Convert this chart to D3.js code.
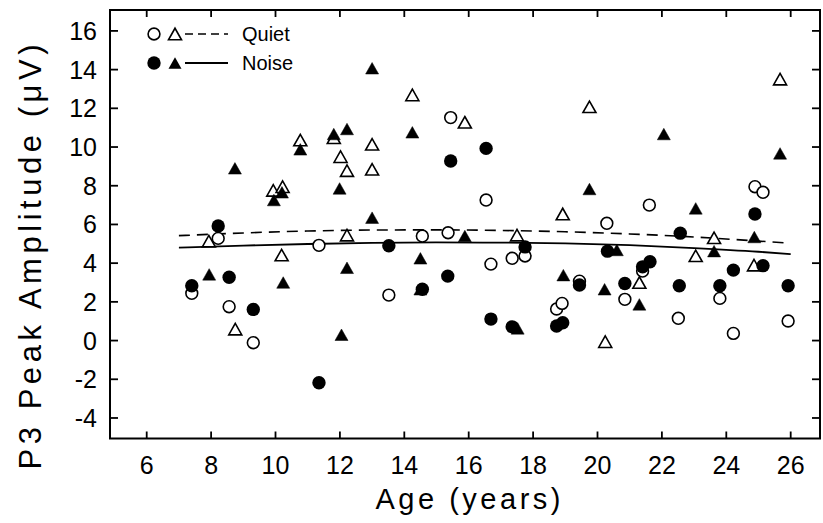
<!DOCTYPE html>
<html><head><meta charset="utf-8">
<script src="https://cdn.jsdelivr.net/npm/d3@7"></script>
<style>body{margin:0;background:#fff}svg{display:block}text{font-family:"Liberation Sans",Arial,sans-serif;fill:#000}</style>
</head><body><div id="chart"></div>
<script>
// ---- data ----
const xTicks = [6,8,10,12,14,16,18,20,22,24,26];
const yTicks = [-4,-2,0,2,4,6,8,10,12,14,16];
const quietCircles = [[7.40,2.44],[8.22,5.28],[8.56,1.75],[9.31,-0.11],[11.35,4.92],[13.52,2.35],[14.56,5.40],[15.44,11.52],[15.36,5.57],[16.54,7.26],[16.69,3.95],[17.35,4.25],[17.75,4.37],[18.73,1.63],[18.90,1.92],[19.44,3.07],[20.29,6.06],[20.85,2.13],[21.40,3.59],[21.61,7.00],[22.51,1.15],[23.80,2.18],[24.22,0.37],[24.89,7.95],[25.14,7.66],[25.92,1.01]];
const quietTriangles = [[7.93,5.14],[8.75,0.59],[9.93,7.76],[10.22,7.95],[10.19,4.42],[10.77,10.36],[11.81,10.48],[12.02,9.50],[12.22,8.78],[12.22,5.45],[13.0,10.14],[13.0,8.85],[14.25,12.69],[15.88,11.28],[17.50,5.45],[18.92,6.54],[19.75,12.08],[20.24,-0.06],[21.30,3.0],[23.05,4.38],[23.62,5.31],[24.86,3.90],[25.67,13.51]];
const noiseCircles = [[7.40,2.83],[8.22,5.92],[8.56,3.27],[9.31,1.61],[11.35,-2.18],[13.52,4.90],[14.56,2.65],[15.35,3.33],[15.44,9.28],[16.54,9.93],[16.69,1.11],[17.35,0.71],[17.75,4.84],[18.73,0.75],[18.92,0.92],[19.44,2.87],[20.31,4.62],[20.85,2.95],[21.40,3.81],[21.63,4.07],[22.54,2.83],[22.57,5.55],[23.80,2.83],[24.22,3.64],[24.89,6.54],[25.14,3.87],[25.92,2.83]];
const noiseTriangles = [[7.94,3.42],[8.74,8.90],[9.95,7.26],[10.20,7.66],[10.24,3.0],[10.77,9.88],[11.81,10.67],[11.99,7.86],[12.05,0.30],[12.22,10.93],[12.22,3.76],[13.0,14.07],[13.0,6.35],[14.25,10.76],[14.5,4.25],[14.5,2.65],[15.88,5.40],[17.52,0.63],[18.94,3.38],[19.75,7.83],[20.22,2.65],[20.6,4.68],[21.30,1.87],[22.06,10.67],[23.05,6.83],[23.62,4.62],[24.87,5.35],[25.67,9.67]];
const quietFitAge = [7,9,11,13,15,17,19,21,23,25,25.8];
const quietFitVal = [5.42,5.56,5.66,5.71,5.72,5.69,5.62,5.51,5.35,5.14,5.05];
const noiseFitAge = [7,9,11,13,15,17,19,21,23,25,26];
const noiseFitVal = [4.80,4.91,4.99,5.05,5.07,5.06,5.02,4.93,4.78,4.59,4.47];
const legendLabels = ["Quiet","Noise"];
const xTitle = "Age (years)";
const yTitle = "P3 Peak Amplitude (\u03bcV)";

// ---- layout ----
const W = 823, H = 523;
const L = 110, R = 820, T = 10, B = 438.5;
const svg = d3.select("#chart").append("svg").attr("width", W).attr("height", H);
const x = d3.scaleLinear().domain([4.86, 26.91]).range([L, R]);
const y = d3.scaleLinear().domain([-5.06, 17.08]).range([B, T]);

// ticks (inward on all four sides)
const g = svg.append("g");
g.selectAll(".xb").data(xTicks).join("line").attr("x1", d => x(d)).attr("x2", d => x(d)).attr("y1", B).attr("y2", B - 7).attr("stroke", "#000").attr("stroke-width", 1.8);
g.selectAll(".xt").data(xTicks).join("line").attr("x1", d => x(d)).attr("x2", d => x(d)).attr("y1", T).attr("y2", T + 7).attr("stroke", "#000").attr("stroke-width", 1.8);
g.selectAll(".yl").data(yTicks).join("line").attr("y1", d => y(d)).attr("y2", d => y(d)).attr("x1", L).attr("x2", L + 8).attr("stroke", "#000").attr("stroke-width", 1.8);
g.selectAll(".yr").data(yTicks).join("line").attr("y1", d => y(d)).attr("y2", d => y(d)).attr("x1", R).attr("x2", R - 8).attr("stroke", "#000").attr("stroke-width", 1.8);
svg.append("rect").attr("x", L).attr("y", T).attr("width", R - L).attr("height", B - T).attr("fill", "none").attr("stroke", "#000").attr("stroke-width", 2);

// tick labels
svg.selectAll(".xlab").data(xTicks).join("text").attr("x", d => x(d)).attr("y", 474).attr("text-anchor", "middle").attr("font-size", 25).text(d => String(d));
svg.selectAll(".ylab").data(yTicks).join("text").attr("x", 97).attr("y", d => y(d) + 9).attr("text-anchor", "end").attr("font-size", 25).text(d => String(d));

// titles
svg.append("text").attr("x", 468).attr("y", 509).attr("text-anchor", "middle").attr("font-size", 29)
  .attr("textLength", 185).attr("lengthAdjust", "spacing").text(xTitle);
svg.append("text").attr("transform", "translate(41,257) rotate(-90)").attr("text-anchor", "middle").attr("font-size", 31)
  .attr("textLength", 425).attr("lengthAdjust", "spacing").text(yTitle);

// fit lines
const line = d3.line().x(d => x(d[0])).y(d => y(d[1])).curve(d3.curveMonotoneX);
svg.append("path").datum(quietFitAge.map((a, i) => [a, quietFitVal[i]])).attr("d", line)
  .attr("fill", "none").attr("stroke", "#000").attr("stroke-width", 1.6).attr("stroke-dasharray", "11,7");
svg.append("path").datum(noiseFitAge.map((a, i) => [a, noiseFitVal[i]])).attr("d", line)
  .attr("fill", "none").attr("stroke", "#000").attr("stroke-width", 1.8);

// markers
const triW = 13, triH = 11.5;
const tri = (cx, cy) => `M${cx},${cy - triH / 2}L${cx + triW / 2},${cy + triH / 2}L${cx - triW / 2},${cy + triH / 2}Z`;
function circles(data, filled) {
  svg.append("g").selectAll("circle").data(data).join("circle")
    .attr("cx", d => x(d[0])).attr("cy", d => y(d[1])).attr("r", filled ? 6.7 : 5.9)
    .attr("fill", filled ? "#000" : "#fff").attr("stroke", "#000").attr("stroke-width", filled ? 0 : 1.6);
}
function tris(data, filled) {
  svg.append("g").selectAll("path").data(data).join("path")
    .attr("d", d => tri(x(d[0]), y(d[1])))
    .attr("fill", filled ? "#000" : "#fff").attr("stroke", "#000").attr("stroke-width", filled ? 0.5 : 1.6).attr("stroke-linejoin", "miter");
}
circles(quietCircles, false);
tris(quietTriangles, false);
circles(noiseCircles, true);
tris(noiseTriangles, true);

// legend
const lg = svg.append("g");
const legY = [34, 63];
lg.append("circle").attr("cx", 154).attr("cy", legY[0]).attr("r", 5.9).attr("fill", "#fff").attr("stroke", "#000").attr("stroke-width", 1.6);
lg.append("path").attr("d", tri(175, legY[0])).attr("fill", "#fff").attr("stroke", "#000").attr("stroke-width", 1.6);
lg.append("line").attr("x1", 185).attr("x2", 228).attr("y1", legY[0]).attr("y2", legY[0]).attr("stroke", "#000").attr("stroke-width", 1.6).attr("stroke-dasharray", "8,5");
lg.append("circle").attr("cx", 154).attr("cy", legY[1]).attr("r", 6.7).attr("fill", "#000");
lg.append("path").attr("d", tri(175, legY[1])).attr("fill", "#000");
lg.append("line").attr("x1", 185).attr("x2", 228).attr("y1", legY[1]).attr("y2", legY[1]).attr("stroke", "#000").attr("stroke-width", 1.8);
lg.selectAll(".lt").data(legendLabels).join("text").attr("x", 242).attr("y", (d, i) => legY[i] + 7).attr("font-size", 20).text(d => d);
</script></body></html>
